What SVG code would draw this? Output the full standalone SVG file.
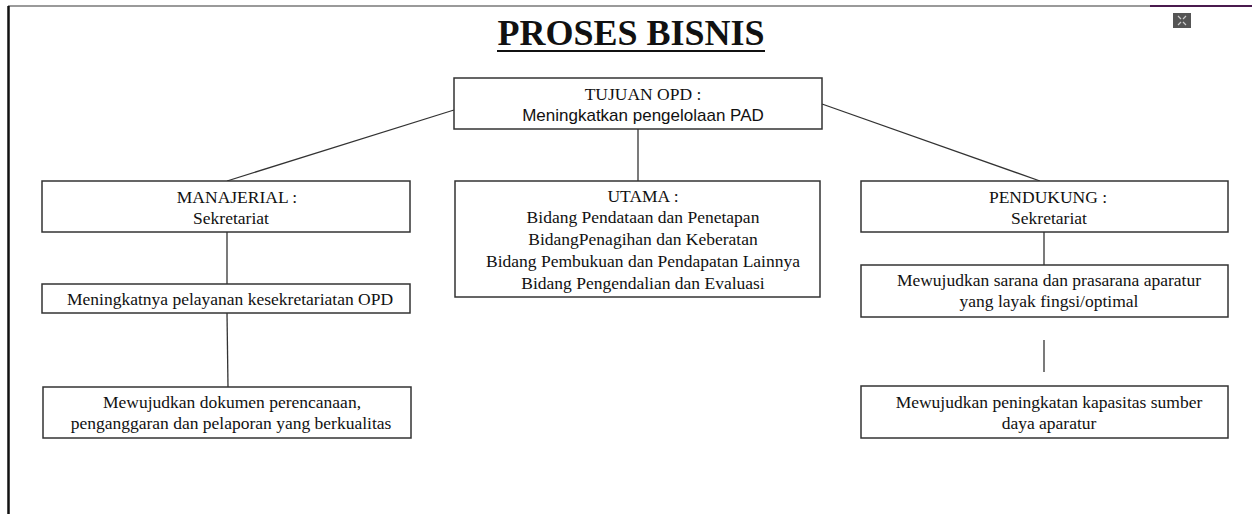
<svg xmlns="http://www.w3.org/2000/svg" width="1252" height="514" viewBox="0 0 1252 514">
<style>
.box{fill:#fff;stroke:#333;stroke-width:1.5}
.t{font-family:"Liberation Serif","Times New Roman",serif;font-size:17.5px;fill:#111;text-anchor:middle}
.s{font-family:"Liberation Sans",Arial,sans-serif;font-size:17px;fill:#111;text-anchor:middle}
.c{stroke:#333;stroke-width:1.3;fill:none}
</style>
<rect width="1252" height="514" fill="#fff"/>
<g id="frame">
<line x1="8" y1="6" x2="1150" y2="6" stroke="#9a9a9a" stroke-width="2"/>
<line x1="1150" y1="6" x2="1252" y2="6" stroke="#4a1a4e" stroke-width="2"/>
<line x1="8.5" y1="6" x2="8.5" y2="514" stroke="#111" stroke-width="2.5"/>
<rect x="1173" y="13" width="18" height="15" fill="#555"/>
<path d="M1178 16 l3 3 M1186 16 l-3 3 M1178 25 l3 -3 M1186 25 l-3 -3" stroke="#ccc" stroke-width="1.2"/>
</g>
<g id="title">
<text x="631" y="45" font-family="Liberation Serif,'Times New Roman',serif" font-size="36" font-weight="bold" text-anchor="middle" fill="#111">PROSES BISNIS</text>
<line x1="497" y1="51" x2="765" y2="51" stroke="#111" stroke-width="2"/>
</g>
<g id="connectors">
<line class="c" x1="454" y1="110" x2="227" y2="181"/>
<line class="c" x1="638" y1="129" x2="638" y2="181"/>
<line class="c" x1="822" y1="104" x2="1040" y2="181"/>
<line class="c" x1="227" y1="232" x2="227" y2="284"/>
<line class="c" x1="227" y1="313" x2="228" y2="387"/>
<line class="c" x1="1044" y1="232" x2="1044" y2="265"/>
<line class="c" x1="1044" y1="340" x2="1044" y2="372"/>
</g>
<g id="tujuan">
<rect class="box" x="454" y="78" width="368" height="51"/>
<text class="t" x="643" y="100">TUJUAN OPD :</text>
<text class="s" x="643" y="121">Meningkatkan pengelolaan PAD</text>
</g>
<g id="manajerial">
<rect class="box" x="42" y="181" width="368" height="51"/>
<text class="t" x="237" y="203">MANAJERIAL :</text>
<text class="t" x="231" y="224">Sekretariat</text>
</g>
<g id="utama">
<rect class="box" x="455" y="181" width="365" height="116"/>
<text class="t" x="643" y="202">UTAMA :</text>
<text class="t" x="643" y="223">Bidang Pendataan dan Penetapan</text>
<text class="t" x="643" y="245">BidangPenagihan dan Keberatan</text>
<text class="t" x="643" y="267">Bidang Pembukuan dan Pendapatan Lainnya</text>
<text class="t" x="643" y="289">Bidang Pengendalian dan Evaluasi</text>
</g>
<g id="pendukung">
<rect class="box" x="861" y="181" width="367" height="51"/>
<text class="t" x="1048" y="203">PENDUKUNG :</text>
<text class="t" x="1049" y="224">Sekretariat</text>
</g>
<g id="pelayanan">
<rect class="box" x="42" y="284" width="368" height="29"/>
<text class="t" x="230" y="305">Meningkatnya pelayanan kesekretariatan OPD</text>
</g>
<g id="dokumen">
<rect class="box" x="43" y="387" width="368" height="51"/>
<text class="t" x="232" y="408">Mewujudkan dokumen perencanaan,</text>
<text class="t" x="231" y="429">penganggaran dan pelaporan yang berkualitas</text>
</g>
<g id="sarana">
<rect class="box" x="861" y="265" width="367" height="52"/>
<text class="t" x="1049" y="286">Mewujudkan sarana dan prasarana aparatur</text>
<text class="t" x="1049" y="307">yang layak fingsi/optimal</text>
</g>
<g id="kapasitas">
<rect class="box" x="861" y="386" width="367" height="52"/>
<text class="t" x="1049" y="408">Mewujudkan peningkatan kapasitas sumber</text>
<text class="t" x="1049" y="429">daya aparatur</text>
</g>
</svg>
